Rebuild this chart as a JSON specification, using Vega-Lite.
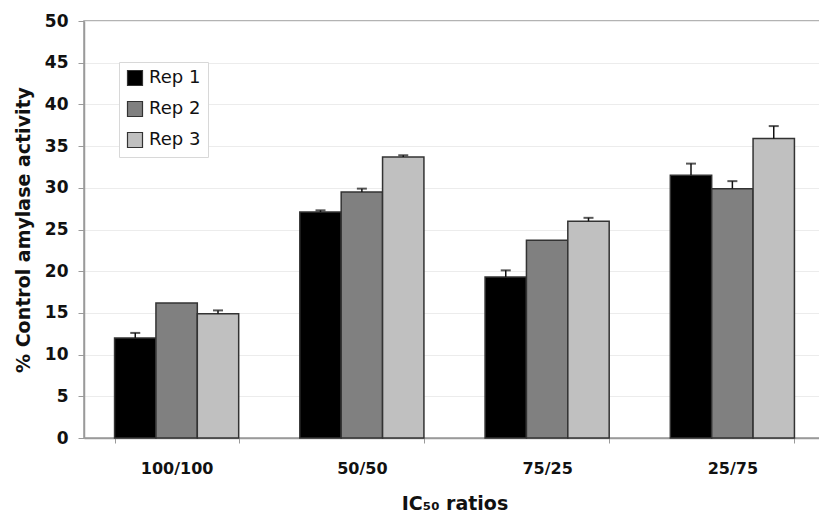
{
  "$schema": "https://vega.github.io/schema/vega-lite/v6.json",
  "autosize": "none",
  "padding": {"left": 84, "top": 21, "right": 0, "bottom": 78},
  "width": 741,
  "height": 417,
  "background": "white",
  "data": {
    "values": [
      {"ratio": "100/100", "rep": "Rep 1", "value": 12.0, "upper": 12.6},
      {"ratio": "100/100", "rep": "Rep 2", "value": 16.2, "upper": null},
      {"ratio": "100/100", "rep": "Rep 3", "value": 14.9, "upper": 15.3},
      {"ratio": "50/50", "rep": "Rep 1", "value": 27.1, "upper": 27.3},
      {"ratio": "50/50", "rep": "Rep 2", "value": 29.5, "upper": 29.9},
      {"ratio": "50/50", "rep": "Rep 3", "value": 33.7, "upper": 33.9},
      {"ratio": "75/25", "rep": "Rep 1", "value": 19.3, "upper": 20.1},
      {"ratio": "75/25", "rep": "Rep 2", "value": 23.7, "upper": null},
      {"ratio": "75/25", "rep": "Rep 3", "value": 26.0, "upper": 26.4},
      {"ratio": "25/75", "rep": "Rep 1", "value": 31.5, "upper": 32.9},
      {"ratio": "25/75", "rep": "Rep 2", "value": 29.9, "upper": 30.8},
      {"ratio": "25/75", "rep": "Rep 3", "value": 35.9, "upper": 37.4}
    ]
  },
  "encoding": {
    "x": {
      "field": "ratio",
      "type": "nominal",
      "sort": ["100/100", "50/50", "75/25", "25/75"],
      "scale": {"paddingInner": 0.33, "paddingOuter": 0.165},
      "axis": {
        "title": "IC₅₀ ratios",
        "labelAngle": 0,
        "tickBand": "extent",
        "tickSize": 5,
        "labelPadding": 17,
        "titlePadding": 18,
        "labelFontSize": 16,
        "titleFontSize": 19
      }
    },
    "xOffset": {
      "field": "rep",
      "type": "nominal",
      "sort": ["Rep 1", "Rep 2", "Rep 3"],
      "scale": {"paddingInner": 0, "paddingOuter": 0}
    }
  },
  "layer": [
    {
      "mark": {"type": "bar", "stroke": "#333333", "strokeWidth": 1.5},
      "encoding": {
        "y": {
          "field": "value",
          "type": "quantitative",
          "scale": {"domain": [0, 50], "nice": false},
          "axis": {
            "title": "% Control amylase activity",
            "values": [0, 5, 10, 15, 20, 25, 30, 35, 40, 45, 50],
            "tickSize": 6,
            "labelPadding": 10,
            "titlePadding": 11,
            "labelFontSize": 17,
            "titleFontSize": 19,
            "grid": true
          }
        },
        "fill": {
          "field": "rep",
          "type": "nominal",
          "sort": ["Rep 1", "Rep 2", "Rep 3"],
          "scale": {"domain": ["Rep 1", "Rep 2", "Rep 3"], "range": ["#000000", "#808080", "#c0c0c0"]},
          "legend": {
            "title": null,
            "orient": "none",
            "legendX": 35,
            "legendY": 41,
            "direction": "vertical",
            "symbolType": "square",
            "symbolSize": 225,
            "symbolStrokeColor": "#333333",
            "symbolStrokeWidth": 1.2,
            "labelFontSize": 18,
            "labelFont": "DejaVu Sans",
            "labelColor": "#111111",
            "labelOffset": 5,
            "rowPadding": 11,
            "padding": 7,
            "fillColor": "white",
            "strokeColor": "#d8d8d8"
          }
        }
      }
    },
    {
      "transform": [{"filter": "datum.upper != null"}],
      "mark": {"type": "rule", "color": "#111111", "strokeWidth": 1.5},
      "encoding": {
        "y": {"field": "value", "type": "quantitative"},
        "y2": {"field": "upper"}
      }
    },
    {
      "transform": [{"filter": "datum.upper != null"}],
      "mark": {"type": "tick", "color": "#111111", "size": 10, "thickness": 2, "orient": "horizontal"},
      "encoding": {
        "y": {"field": "upper", "type": "quantitative"}
      }
    }
  ],
  "config": {
    "font": "DejaVu Sans",
    "view": {"stroke": "#9a9a9a", "strokeWidth": 1.5},
    "axis": {
      "labelFont": "DejaVu Sans",
      "titleFont": "DejaVu Sans",
      "labelFontWeight": "bold",
      "titleFontWeight": "bold",
      "labelColor": "#111111",
      "titleColor": "#111111",
      "domainColor": "#9a9a9a",
      "domainWidth": 1.5,
      "tickColor": "#9a9a9a",
      "gridColor": "#ececec",
      "gridWidth": 1
    },
    "axisX": {"grid": false}
  }
}
